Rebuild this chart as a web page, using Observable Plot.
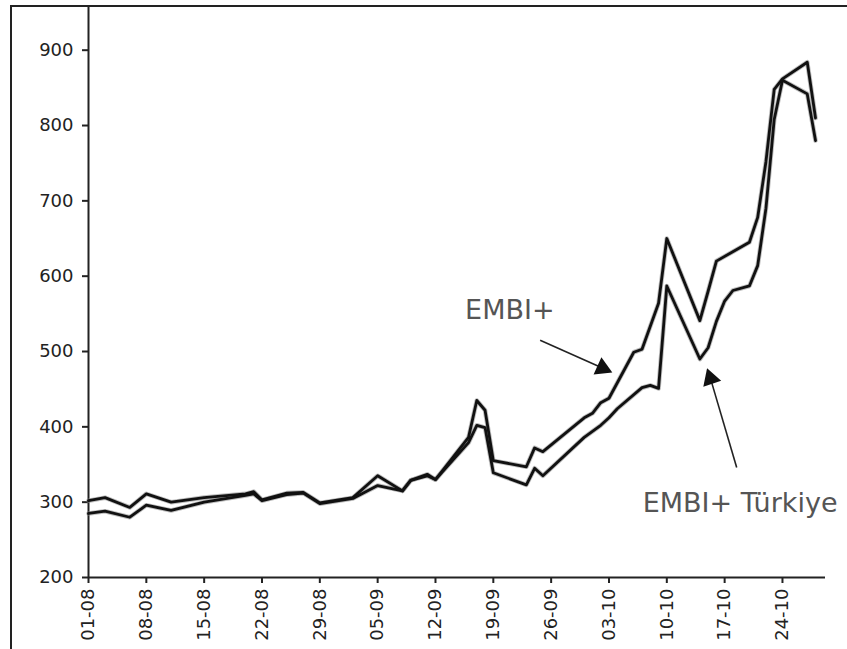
<!DOCTYPE html>
<html><head><meta charset="utf-8">
<script src="https://cdn.jsdelivr.net/npm/d3@7"></script>
<script src="https://cdn.jsdelivr.net/npm/@observablehq/plot@0.6"></script>
<style>
html,body{margin:0;padding:0;background:#fff;overflow:hidden;width:847px;height:649px;}
#chart{position:absolute;left:0;top:0;}
#frame{position:absolute;left:10px;top:5px;width:900px;height:700px;border-left:2px solid #222;border-top:2px solid #222;pointer-events:none;}
</style></head><body>
<div id="chart"></div><div id="frame"></div>
<script>
// ---- data (bps spreads, 2008) ----
const embiDates = ["2008-08-01","2008-08-03","2008-08-06","2008-08-08","2008-08-11","2008-08-15","2008-08-20","2008-08-21","2008-08-22","2008-08-25","2008-08-27","2008-08-29","2008-09-02","2008-09-05","2008-09-08","2008-09-09","2008-09-11","2008-09-12","2008-09-16","2008-09-17","2008-09-18","2008-09-19","2008-09-23","2008-09-24","2008-09-25","2008-09-30","2008-10-01","2008-10-02","2008-10-03","2008-10-06","2008-10-07","2008-10-09","2008-10-10","2008-10-14","2008-10-15","2008-10-16","2008-10-20","2008-10-21","2008-10-22","2008-10-23","2008-10-24","2008-10-27","2008-10-28"];
const embiValues = [302,306,293,311,300,306,311,314,303,312,313,299,306,335,315,329,337,330,386,435,422,355,347,372,367,412,418,432,438,499,503,564,650,541,580,620,645,678,752,848,862,884,810];

const trDates = ["2008-08-01","2008-08-03","2008-08-06","2008-08-08","2008-08-11","2008-08-15","2008-08-20","2008-08-21","2008-08-22","2008-08-25","2008-08-27","2008-08-29","2008-09-02","2008-09-05","2008-09-08","2008-09-09","2008-09-11","2008-09-12","2008-09-16","2008-09-17","2008-09-18","2008-09-19","2008-09-23","2008-09-24","2008-09-25","2008-09-30","2008-10-02","2008-10-03","2008-10-04","2008-10-07","2008-10-08","2008-10-09","2008-10-10","2008-10-14","2008-10-15","2008-10-16","2008-10-17","2008-10-18","2008-10-20","2008-10-21","2008-10-22","2008-10-23","2008-10-24","2008-10-27","2008-10-28"];
const trValues = [285,288,280,296,289,300,309,311,302,310,312,298,305,322,315,329,335,330,379,402,399,339,323,345,335,386,402,412,424,452,455,451,587,490,505,540,567,581,587,614,690,808,860,842,780];

const xTicks = ["2008-08-01","2008-08-08","2008-08-15","2008-08-22","2008-08-29","2008-09-05","2008-09-12","2008-09-19","2008-09-26","2008-10-03","2008-10-10","2008-10-17","2008-10-24"];
const yTicks = [200,300,400,500,600,700,800,900];

// annotations (data coordinates)
const labelText = ["EMBI+","EMBI+ Türkiye"];
const labelX = ["2008-09-15T14:00Z","2008-10-07T02:00Z"];
const labelY = [555,298];
const arrowTailX = ["2008-09-24T16:00Z","2008-10-18T11:00Z"];
const arrowTailY = [515,346];
const arrowHeadX = ["2008-10-02T05:00Z","2008-10-15T07:00Z"];
const arrowHeadY = [478,464];
const arrowAngle = [114.5,-18.5];

// ---- build ----
const P = s => new Date(s);
const rows = [
  ...embiDates.map((d,i)=>({date:P(d), value:embiValues[i], series:"EMBI+"})),
  ...trDates.map((d,i)=>({date:P(d), value:trValues[i], series:"EMBI+ Türkiye"}))
];
const labels = labelText.map((t,i)=>({text:t, x:P(labelX[i]), y:labelY[i]}));
const arrows = arrowTailX.map((t,i)=>({x1:P(t), y1:arrowTailY[i], x2:P(arrowHeadX[i]), y2:arrowHeadY[i], angle:arrowAngle[i]}));

const chart = Plot.plot({
  width: 847, height: 649,
  marginLeft: 88, marginRight: 22, marginTop: 6, marginBottom: 72,
  style: {fontFamily: "'DejaVu Sans', sans-serif", fontSize: "18px", color: "#222", background: "transparent"},
  x: {type: "utc", domain: [P("2008-08-01"), P("2008-10-29T05:00Z")]},
  y: {domain: [200, 958]},
  marks: [
    Plot.axisY({ticks: yTicks, tickSize: 6, tickPadding: 9, label: null, strokeWidth: 2, fontSize: 18, fill: "#222"}),
    Plot.axisX({ticks: xTicks.map(P), tickFormat: d3.utcFormat("%d-%m"), tickRotate: -90, tickSize: 6, tickPadding: 5, label: null, strokeWidth: 2, fontSize: 18, fill: "#222"}),
    Plot.ruleX([P("2008-08-01")], {stroke: "#222", strokeWidth: 2}),
    Plot.ruleY([200], {stroke: "#222", strokeWidth: 2}),
    Plot.line(rows, {x: "date", y: "value", z: "series", stroke: "#888", strokeWidth: 4.6, strokeOpacity: 0.55}),
    Plot.line(rows, {x: "date", y: "value", z: "series", stroke: "#111", strokeWidth: 2.8}),
    Plot.link(arrows, {x1: "x1", y1: "y1", x2: "x2", y2: "y2", stroke: "#222", strokeWidth: 1.6}),
    Plot.dot(arrows, {x: "x2", y: "y2", symbol: "triangle", r: 7, rotate: "angle", fill: "#111", stroke: "none"}),
    Plot.text(labels, {x: "x", y: "y", text: "text", textAnchor: "start", fill: "#555", fontSize: 27})
  ]
});
document.getElementById("chart").appendChild(chart);
</script>
</body></html>
